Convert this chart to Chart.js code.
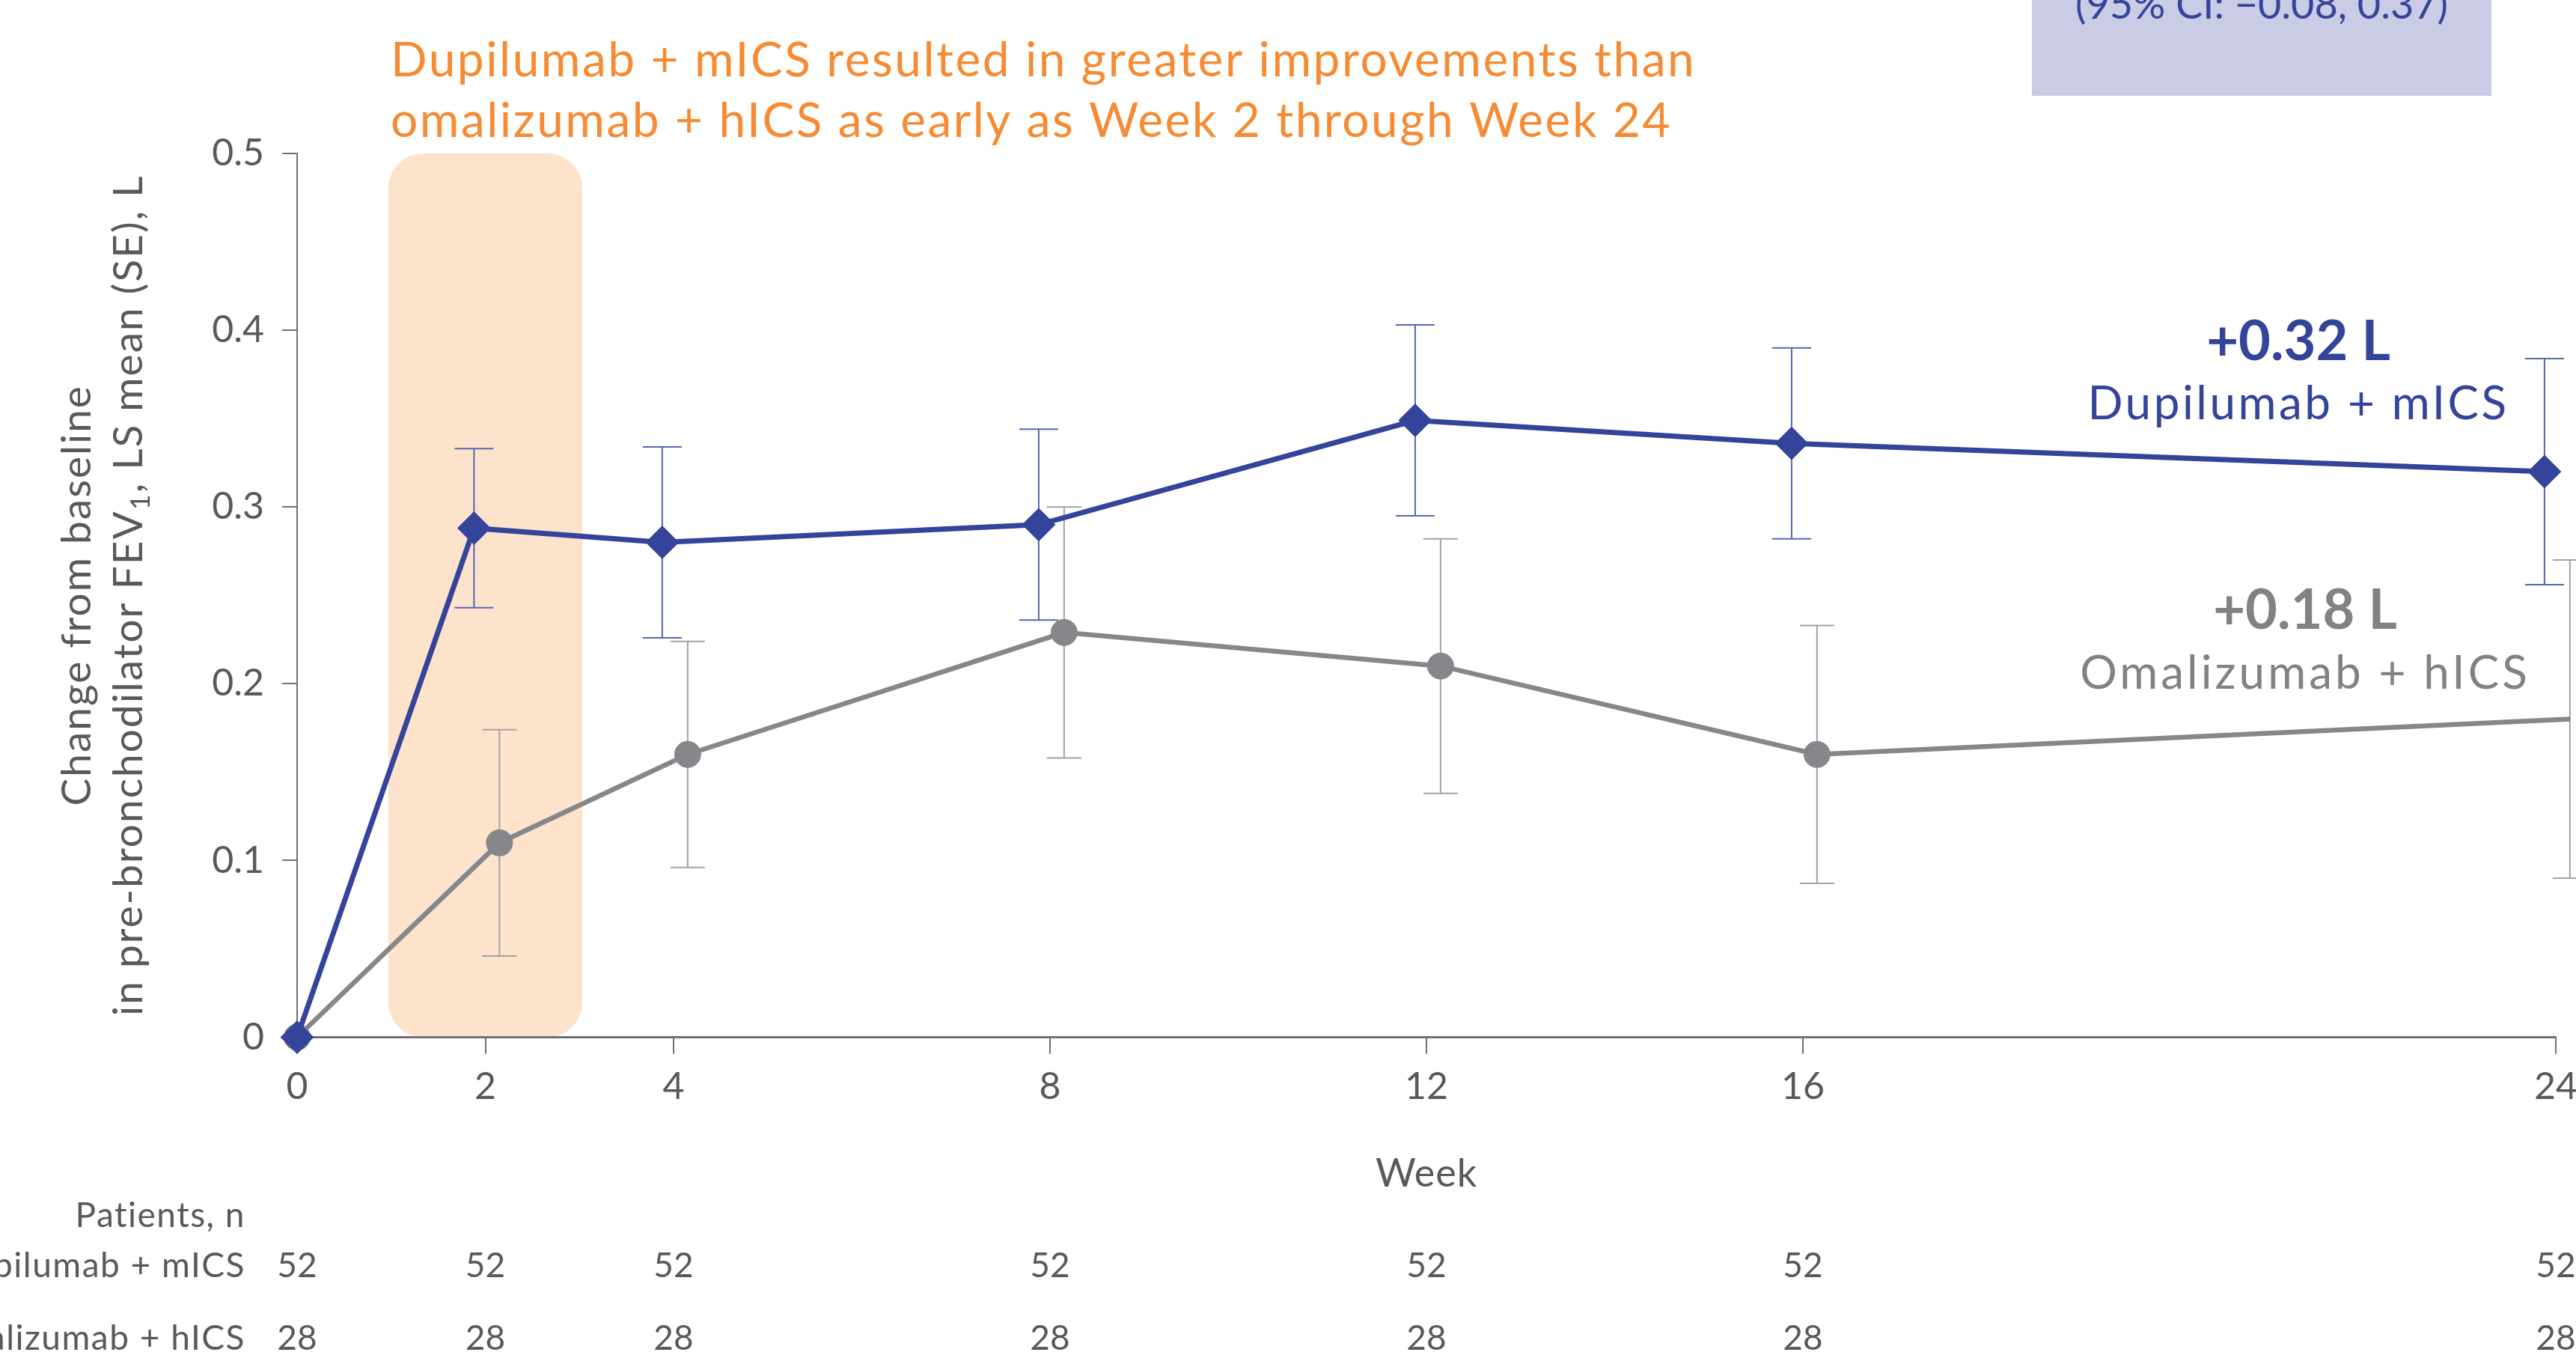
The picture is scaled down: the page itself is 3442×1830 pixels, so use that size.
<!DOCTYPE html>
<html>
<head>
<meta charset="utf-8">
<script src="https://cdn.jsdelivr.net/npm/chart.js@4.4.1/dist/chart.umd.min.js"></script>
<style>
  html, body { margin: 0; padding: 0; background: #ffffff; }
  #wrap { width: 3442px; height: 1830px; position: relative; overflow: hidden; }
  canvas { display: block; }
</style>
</head>
<body>
<div id="wrap"><canvas id="fev" width="3442" height="1830"></canvas></div>
<script>
// Study visits (weeks) and tick labels
const weeks = [0, 2, 4, 8, 12, 16, 24];
const weekTicks = [0, 2, 4, 8, 12, 16, 24];
const yTicks = [0, 0.1, 0.2, 0.3, 0.4, 0.5];

// LS mean change from baseline in pre-BD FEV1 (L) and SE
const dupilumabMean = [0, 0.288, 0.280, 0.290, 0.349, 0.336, 0.320];
const dupilumabSE   = [0, 0.045, 0.054, 0.054, 0.054, 0.054, 0.064];
const omalizumabMean = [0, 0.110, 0.160, 0.229, 0.210, 0.160, 0.180];
const omalizumabSE   = [0, 0.064, 0.064, 0.071, 0.072, 0.073, 0.090];

// Patients at risk per visit
const dupilumabN  = [52, 52, 52, 52, 52, 52, 52];
const omalizumabN = [28, 28, 28, 28, 28, 28, 28];

// Series labels and callouts
const seriesNames = ['Dupilumab + mICS', 'Omalizumab + hICS'];
const endLabels = ['+0.32 L', '+0.18 L'];

const FONT = 'Lato, "Open Sans", sans-serif';
const BLUE = '#33449A';
const BLUE_BAR = '#5767B2';
const GREY = '#86878A';
const GREY_BAR = '#A2A3A6';
const GREY_TEXT = '#808285';
const AXIS_TEXT = '#58595B';
const AXIS_LINE = '#707174';
const ORANGE = '#F68B33';

// horizontal nudge (in weeks) so the two series' error bars don't overlap
const dodge = [-0.12, 0.15];
const toPoints = (means, d) => weeks.map((w, i) => ({ x: w === 0 ? 0 : w + d, y: means[i] }));

// shaded window highlighting Week 2
const band = { from: 0.97, to: 3.03, color: '#FDE3CC', radius: 46 };

const bandPlugin = {
  id: 'weekBand',
  beforeDraw(chart) {
    const { ctx, scales: { x, y } } = chart;
    const l = x.getPixelForValue(band.from), r = x.getPixelForValue(band.to);
    const t = y.getPixelForValue(0.5), b = y.getPixelForValue(0);
    ctx.save();
    ctx.fillStyle = band.color;
    ctx.beginPath();
    ctx.roundRect(l, t, r - l, b - t, band.radius);
    ctx.fill();
    ctx.restore();
  }
};

const errorBarPlugin = {
  id: 'errorBars',
  beforeDatasetsDraw(chart) {
    const { ctx, scales: { y } } = chart;
    const sets = [
      { se: dupilumabSE, mean: dupilumabMean, color: BLUE_BAR, cap: 26 },
      { se: omalizumabSE, mean: omalizumabMean, color: GREY_BAR, cap: 23 }
    ];
    ctx.save();
    ctx.lineWidth = 2;
    sets.forEach((s, di) => {
      const meta = chart.getDatasetMeta(di);
      ctx.strokeStyle = s.color;
      meta.data.forEach((pt, i) => {
        if (!s.se[i]) return;
        const px = pt.x;
        const top = y.getPixelForValue(s.mean[i] + s.se[i]);
        const bot = y.getPixelForValue(s.mean[i] - s.se[i]);
        ctx.beginPath();
        ctx.moveTo(px, top); ctx.lineTo(px, bot);
        ctx.moveTo(px - s.cap, top); ctx.lineTo(px + s.cap, top);
        ctx.moveTo(px - s.cap, bot); ctx.lineTo(px + s.cap, bot);
        ctx.stroke();
      });
    });
    ctx.restore();
  }
};

function spaced(ctx, px) { ctx.letterSpacing = px + 'px'; }

const textPlugin = {
  id: 'texts',
  afterDraw(chart) {
    const { ctx, chartArea, scales: { x } } = chart;
    ctx.save();

    // headline
    ctx.fillStyle = ORANGE;
    ctx.font = `64px ${FONT}`;
    spaced(ctx, 2.5);
    ctx.textAlign = 'left';
    ctx.textBaseline = 'alphabetic';
    ctx.fillText('Dupilumab + mICS resulted in greater improvements than', 522, 102);
    ctx.fillText('omalizumab + hICS as early as Week 2 through Week 24', 522, 183);

    // treatment difference box
    spaced(ctx, 0);
    ctx.fillStyle = '#CACBE5';
    ctx.fillRect(2715, 0, 614, 128);
    ctx.fillStyle = BLUE;
    ctx.font = `54px ${FONT}`;
    ctx.textAlign = 'center';
    ctx.fillText('(95% CI: \u22120.08, 0.37)', 3022, 25);

    // end-of-line callouts
    ctx.fillStyle = BLUE;
    ctx.font = `bold 74px ${FONT}`;
    ctx.fillText(endLabels[0], 3071, 481);
    ctx.font = `62px ${FONT}`;
    spaced(ctx, 3.5);
    ctx.fillText(seriesNames[0], 3071, 560);
    spaced(ctx, 0);
    ctx.fillStyle = GREY_TEXT;
    ctx.font = `bold 74px ${FONT}`;
    ctx.fillText(endLabels[1], 3080, 840);
    ctx.font = `62px ${FONT}`;
    spaced(ctx, 4);
    ctx.fillText(seriesNames[1], 3080, 920);
    spaced(ctx, 0);

    // axis titles
    ctx.fillStyle = AXIS_TEXT;
    ctx.font = `52px ${FONT}`;
    spaced(ctx, 1);
    ctx.fillText('Week', (chartArea.left + chartArea.right) / 2, 1585);

    const cy = (chartArea.top + chartArea.bottom) / 2;
    spaced(ctx, 2);
    ctx.save();
    ctx.translate(121, cy);
    ctx.rotate(-Math.PI / 2);
    ctx.textAlign = 'center';
    ctx.font = `55px ${FONT}`;
    ctx.fillText('Change from baseline', 0, 0);
    ctx.restore();

    ctx.save();
    ctx.translate(190, cy);
    ctx.rotate(-Math.PI / 2);
    ctx.textAlign = 'left';
    const big = `55px ${FONT}`, small = `36px ${FONT}`;
    const p1 = 'in pre-bronchodilator FEV', p2 = '1', p3 = ', LS mean (SE), L';
    ctx.font = big; const w1 = ctx.measureText(p1).width, w3 = ctx.measureText(p3).width;
    ctx.font = small; const w2 = ctx.measureText(p2).width;
    let sx = -(w1 + w2 + w3) / 2;
    ctx.font = big; ctx.fillText(p1, sx, 0); sx += w1;
    ctx.font = small; ctx.fillText(p2, sx, 10); sx += w2;
    ctx.font = big; ctx.fillText(p3, sx, 0);
    ctx.restore();

    // patients-at-risk table
    ctx.font = `46px ${FONT}`;
    spaced(ctx, 1.5);
    ctx.textAlign = 'right';
    ctx.fillText('Patients, n', 328, 1639);
    ctx.fillText(seriesNames[0], 328, 1706);
    ctx.fillText(seriesNames[1], 328, 1803);
    spaced(ctx, 0);
    ctx.textAlign = 'center';
    weeks.forEach((w, i) => {
      const px = x.getPixelForValue(w);
      ctx.fillText(String(dupilumabN[i]), px, 1706);
      ctx.fillText(String(omalizumabN[i]), px, 1803);
    });

    ctx.restore();
  }
};

new Chart(document.getElementById('fev'), {
  type: 'line',
  data: {
    datasets: [
      {
        label: seriesNames[0],
        data: toPoints(dupilumabMean, dodge[0]),
        borderColor: BLUE,
        backgroundColor: BLUE,
        borderWidth: 7,
        pointStyle: 'rectRot',
        pointRadius: 21,
        pointBorderWidth: 2,
        pointBackgroundColor: BLUE,
        pointBorderColor: BLUE,
        tension: 0,
        clip: false
      },
      {
        label: seriesNames[1],
        data: toPoints(omalizumabMean, dodge[1]),
        borderColor: GREY,
        backgroundColor: GREY,
        borderWidth: 6.5,
        pointStyle: 'circle',
        pointRadius: 17.5,
        pointBorderWidth: 1,
        pointBackgroundColor: GREY,
        pointBorderColor: GREY,
        tension: 0,
        clip: false
      }
    ]
  },
  options: {
    responsive: false,
    animation: false,
    devicePixelRatio: 1,
    layout: { padding: { top: 205, right: 27, left: 0, bottom: 0 } },
    plugins: { legend: { display: false }, tooltip: { enabled: false } },
    scales: {
      x: {
        type: 'linear',
        min: 0,
        max: 24,
        afterFit(s) { s.height = 444.5; s.paddingLeft = 0; s.paddingRight = 0; },
        afterBuildTicks(s) { s.ticks = weekTicks.map(v => ({ value: v })); },
        grid: { drawOnChartArea: false, drawTicks: true, tickLength: 22, color: AXIS_LINE, lineWidth: 2 },
        border: { display: true, color: AXIS_LINE, width: 3 },
        ticks: {
          font: { family: FONT, size: 50 },
          color: AXIS_TEXT,
          padding: 14,
          autoSkip: false,
          maxRotation: 0,
          callback: v => String(v)
        }
      },
      y: {
        min: 0,
        max: 0.5,
        afterFit(s) { s.width = 397; s.paddingTop = 0; s.paddingBottom = 0; },
        afterBuildTicks(s) { s.ticks = yTicks.map(v => ({ value: v })); },
        grid: { drawOnChartArea: false, drawTicks: true, tickLength: 20, color: AXIS_LINE, lineWidth: 2 },
        border: { display: true, color: AXIS_LINE, width: 2 },
        ticks: {
          font: { family: FONT, size: 50 },
          color: AXIS_TEXT,
          padding: 24,
          callback: v => (v === 0 ? '0' : v.toFixed(1))
        }
      }
    }
  },
  plugins: [bandPlugin, errorBarPlugin, textPlugin]
});
</script>
</body>
</html>
